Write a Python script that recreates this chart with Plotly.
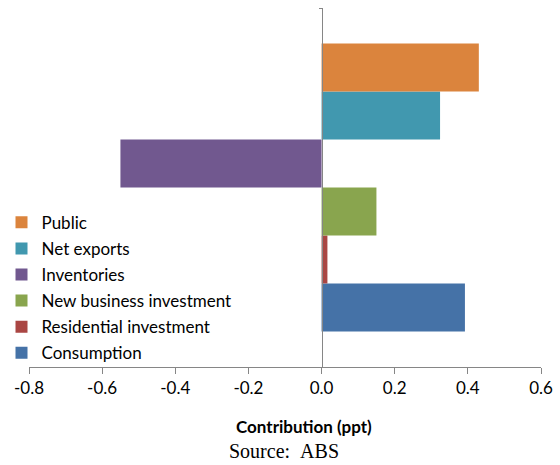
import plotly.graph_objects as go

# Data (bottom to top)
series = ["Consumption", "Residential investment", "New business investment",
          "Inventories", "Net exports", "Public"]
values = [0.392, 0.016, 0.15, -0.55, 0.324, 0.43]
colors = ["#4572A7", "#AA4643", "#89A54E", "#71588F", "#4198AF", "#DB843D"]
category = [""]
x_ticks = [-0.8, -0.6, -0.4, -0.2, 0.0, 0.2, 0.4, 0.6]

FONT = "Lato"
FS = 17
fig = go.Figure()
n = len(series)
for i, (name, v, c) in enumerate(zip(series, values, colors)):
    fig.add_trace(go.Bar(
        y=category, x=[v], name=name, orientation="h",
        marker=dict(color=c, line=dict(width=0)),
        legendgroup=name, legendrank=1000 + (n - i),
    ))

x0, x1 = -0.8, 0.6
fig.update_layout(
    width=560, height=465,
    margin=dict(l=29, r=19, t=8, b=98, autoexpand=False),
    paper_bgcolor="white", plot_bgcolor="white",
    barmode="group", bargap=0.198, bargroupgap=0,
    font=dict(family=FONT, size=FS, color="#000000"),
    xaxis=dict(
        range=[x0, x1], tickvals=x_ticks,
        ticktext=[f"{t:.1f}" for t in x_ticks],
        showgrid=False, zeroline=False,
        showline=True, linecolor="#868686", linewidth=1,
        ticks="outside", ticklen=6, tickcolor="#868686",
        tickfont=dict(family=FONT, size=FS, color="#000000"),
    ),
    yaxis=dict(
        anchor="free", position=(0 - x0) / (x1 - x0),
        showticklabels=False, showgrid=False, zeroline=False,
        showline=True, linecolor="#868686", linewidth=1,
        ticks="outside", ticklen=3, tickcolor="#868686",
        tickson="boundaries", range=[-0.5, 0.5],
    ),
    legend=dict(
        x=-0.0537, xanchor="left", y=0.452, yanchor="top",
        traceorder="grouped", bgcolor="rgba(0,0,0,0)",
        font=dict(family=FONT, size=FS, color="#000000"),
        tracegroupgap=1, itemwidth=30,
    ),
    showlegend=True,
)

fig.add_annotation(
    text="<b>Contribution (ppt)</b>", xref="paper", yref="paper",
    x=(304 - 29) / 512, y=-(427 - 367) / 359, xanchor="center", yanchor="middle",
    showarrow=False, font=dict(family=FONT, size=FS, color="#000000"),
)
fig.add_annotation(
    text="Source:\u00a0\u00a0ABS", xref="paper", yref="paper",
    x=(283.5 - 29) / 512, y=-(451 - 367) / 359, xanchor="center", yanchor="middle",
    showarrow=False, font=dict(family="Liberation Serif", size=20, color="#000000"),
)

fig.write_html("out.html")
